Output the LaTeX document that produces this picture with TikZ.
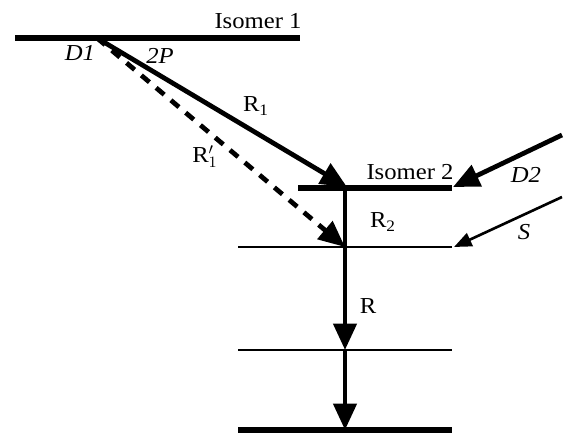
\documentclass[tikz,border=0pt]{standalone}
\usepackage{fontspec}
\setmainfont{Liberation Serif}[FakeStretch=1.08]
\usetikzlibrary{arrows.meta}
\tikzset{
  level/.style={line width=3pt},
  sublevel/.style={line width=1.1pt},
  trans/.style={line width=2.7pt, -{Triangle[length=15pt,width=13pt]}},
  dtrans/.style={trans, dash pattern=on 6pt off 5pt},
  feed/.style={line width=1.5pt, -{Triangle[length=10pt,width=8pt]}},
  lbl/.style={font=\fontsize{13}{15}\selectfont, inner sep=0pt},
  ilbl/.style={lbl, font=\fontsize{13}{15}\selectfont\itshape},
}
\begin{document}
\begin{tikzpicture}[x=0.02cm, y=-0.02cm]
  \useasboundingbox (0,0) rectangle (574,435);

  % levels
  \coordinate (i1a) at (15,38);   \coordinate (i1b) at (300,38);
  \coordinate (i2a) at (298,188); \coordinate (i2b) at (452,188);
  \coordinate (l3a) at (238,247); \coordinate (l3b) at (452,247);
  \coordinate (l4a) at (238,350); \coordinate (l4b) at (452,350);
  \coordinate (gsa) at (238,430); \coordinate (gsb) at (452,430);
  \draw[level]    (i1a) -- (i1b);
  \draw[level]    (i2a) -- (i2b);
  \draw[sublevel] (l3a) -- (l3b);
  \draw[sublevel] (l4a) -- (l4b);
  \draw[level]    (gsa) -- (gsb);

  % transition points
  \coordinate (src) at (97,38);
  \coordinate (top) at (347,187);
  \coordinate (mid) at (345,247);
  \coordinate (low) at (345,350);
  \coordinate (bot) at (345,430);
  \coordinate (d2)  at (562,135);
  \coordinate (d2e) at (453,187);
  \coordinate (s)   at (562,197);
  \coordinate (se)  at (454,247);

  % labels
  \node[lbl]  (iso1) at (258,21)  {Isomer 1};
  \node[ilbl] (dA)   at (80,53)   {D1};
  \node[ilbl] (tp)   at (160,56)  {2P};
  \node[lbl]  (r1)   at (256,106) {R\textsubscript{1}};
  \node[lbl]  (r1p)  at (205,157) {R$'_1$};
  \node[lbl]  (iso2) at (410,172) {Isomer 2};
  \node[ilbl] (dB)   at (526,175) {D2};
  \node[lbl]  (r2)   at (383,222) {R\textsubscript{2}};
  \node[ilbl] (sl)   at (524,232) {S};
  \node[lbl]  (rr)   at (368,306) {R};

  % arrows
  \draw[trans]  (src) -- (top);
  \draw[dtrans] (src) -- (mid);
  \draw[line width=2.7pt] (345,188) -- (mid);
  \draw[trans]  (mid) -- (low);
  \draw[trans]  (low) -- (bot);
  \draw[trans]  (d2) -- (d2e);
  \draw[feed]   (s) -- (se);
\end{tikzpicture}
\end{document}
